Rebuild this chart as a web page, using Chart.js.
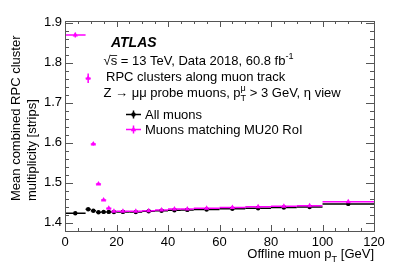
<!DOCTYPE html>
<html>
<head>
<meta charset="utf-8">
<script src="https://cdn.jsdelivr.net/npm/chart.js@4.4.1/dist/chart.umd.min.js"></script>
<style>
html,body{margin:0;padding:0;background:#fff;}
#wrap{width:407px;height:275px;position:relative;}
</style>
</head>
<body>
<div id="wrap"><canvas id="c" width="407" height="275"></canvas></div>
<script>
// ---- data ----
const binLo = [0, 8, 10, 12, 14, 16, 18, 20, 25, 30, 35, 40, 45, 50, 60, 70, 80, 90, 100];
const binHi = [8, 10, 12, 14, 16, 18, 20, 25, 30, 35, 40, 45, 50, 60, 70, 80, 90, 100, 120];
const allMuons = [1.4235, 1.4335, 1.430, 1.426, 1.427, 1.427, 1.4265, 1.427, 1.4265, 1.4285, 1.430, 1.431, 1.432, 1.433, 1.435, 1.436, 1.438, 1.439, 1.447];
const allErr = [0.001, 0.001, 0.001, 0.001, 0.001, 0.001, 0.001, 0.001, 0.001, 0.001, 0.001, 0.001, 0.001, 0.001, 0.001, 0.001, 0.001, 0.001, 0.001];
const mu20 = [1.869, 1.761, 1.597, 1.497, 1.457, 1.436, 1.4285, 1.4285, 1.4285, 1.430, 1.432, 1.434, 1.434, 1.436, 1.438, 1.440, 1.441, 1.4425, 1.4525];
const mu20Err = [0.006, 0.012, 0.004, 0.003, 0.003, 0.002, 0.001, 0.001, 0.001, 0.001, 0.001, 0.001, 0.001, 0.001, 0.001, 0.001, 0.001, 0.001, 0.001];
const xTicks = [0, 20, 40, 60, 80, 100, 120];
const yTicks = [1.4, 1.5, 1.6, 1.7, 1.8, 1.9];

const FONT = '"Liberation Sans", Arial, Helvetica, sans-serif';
const BLACK = '#000000';
const MAGENTA = '#ff00ff';

const centers = binLo.map((lo, i) => (lo + binHi[i]) / 2);
const mk = vals => vals.map((v, i) => ({x: centers[i], y: v}));

const errorBars = {
  id: 'errorBars',
  beforeDatasetsDraw(chart) {
    const ctx = chart.ctx, xs = chart.scales.x, ys = chart.scales.y;
    const sets = [[allMuons, allErr, BLACK], [mu20, mu20Err, MAGENTA]];
    ctx.save();
    ctx.lineWidth = 1.5;
    sets.forEach(([vals, errs, col]) => {
      ctx.strokeStyle = col;
      vals.forEach((v, i) => {
        const y = ys.getPixelForValue(v);
        ctx.beginPath();
        ctx.moveTo(xs.getPixelForValue(binLo[i]), y);
        ctx.lineTo(xs.getPixelForValue(binHi[i]), y);
        const cx = xs.getPixelForValue(centers[i]);
        ctx.moveTo(cx, ys.getPixelForValue(v - errs[i]));
        ctx.lineTo(cx, ys.getPixelForValue(v + errs[i]));
        ctx.stroke();
      });
    });
    ctx.restore();
  }
};

function drawRich(ctx, x, y, parts, size) {
  // parts: [text, mode] mode: 'n' normal, 'sup', 'sub', 'supsub' [sup,sub]
  let cx = x;
  parts.forEach(p => {
    const [t, mode] = p;
    if (mode === 'n' || !mode) {
      ctx.font = size + 'px ' + FONT;
      ctx.fillText(t, cx, y);
      cx += ctx.measureText(t).width;
    } else if (mode === 'sup') {
      ctx.font = (size * 0.7) + 'px ' + FONT;
      ctx.fillText(t, cx, y - size * 0.45);
      cx += ctx.measureText(t).width;
    } else if (mode === 'sub') {
      ctx.font = (size * 0.7) + 'px ' + FONT;
      ctx.fillText(t, cx, y + size * 0.3);
      cx += ctx.measureText(t).width;
    } else if (mode === 'supsub') {
      ctx.font = (size * 0.7) + 'px ' + FONT;
      ctx.fillText(t[0], cx, y - size * 0.45);
      ctx.fillText(t[1], cx, y + size * 0.3);
      cx += Math.max(ctx.measureText(t[0]).width, ctx.measureText(t[1]).width);
    }
  });
  return cx;
}

const decor = {
  id: 'decor',
  afterDraw(chart) {
    const ctx = chart.ctx, a = chart.chartArea, xs = chart.scales.x, ys = chart.scales.y;
    ctx.save();
    // frame
    ctx.strokeStyle = '#555';
    ctx.lineWidth = 1;
    ctx.strokeRect(Math.round(a.left) + 0.5, Math.round(a.top) + 0.5, Math.round(a.right - a.left), Math.round(a.bottom - a.top));
    // x ticks
    ctx.beginPath();
    for (let v = 0; v <= 120; v += 5) {
      const px = Math.round(xs.getPixelForValue(v)) + 0.5;
      const len = (v % 20 === 0) ? 6 : 3;
      ctx.moveTo(px, a.bottom); ctx.lineTo(px, a.bottom - len);
      ctx.moveTo(px, a.top); ctx.lineTo(px, a.top + len);
    }
    for (let k = 0; k <= 26; k++) {
      const v = 1.38 + k * 0.02;
      if (v > ys.max) break;
      const py = Math.round(ys.getPixelForValue(v)) + 0.5;
      const major = Math.abs((v * 10) - Math.round(v * 10)) < 1e-6;
      const len = major ? 8 : 4;
      ctx.moveTo(a.left, py); ctx.lineTo(a.left + len, py);
      ctx.moveTo(a.right, py); ctx.lineTo(a.right - len, py);
    }
    ctx.stroke();

    ctx.fillStyle = '#000';
    ctx.textBaseline = 'alphabetic';
    ctx.textAlign = 'left';
    // ATLAS label
    ctx.font = 'italic bold 14px ' + FONT;
    ctx.fillText('ATLAS', 111, 47);
    // sqrt s line
    ctx.font = '13px ' + FONT;
    const sx = 103.5;
    const w1 = ctx.measureText('√').width;
    const w2 = ctx.measureText('s').width;
    ctx.beginPath();
    ctx.lineWidth = 0.8;
    ctx.strokeStyle = '#000';
    ctx.moveTo(sx + w1 - 0.5, 55.5); ctx.lineTo(sx + w1 + w2, 55.5);
    ctx.stroke();
    drawRich(ctx, sx, 65, [['√s = 13 TeV, Data 2018, 60.8 fb', 'n'], ['-1', 'sup']], 13);
    drawRich(ctx, 106, 81, [['RPC clusters along muon track', 'n']], 13);
    drawRich(ctx, 103.5, 97, [['Z → μμ probe muons, p', 'n'], [['μ', 'T'], 'supsub'], [' > 3 GeV, η view', 'n']], 13);

    // legend
    const leg = [[BLACK, 'All muons', 114.5, 'circle'], [MAGENTA, 'Muons matching MU20 RoI', 129.5, 'triangle']];
    leg.forEach(([col, txt, y, shape]) => {
      ctx.strokeStyle = col; ctx.fillStyle = col; ctx.lineWidth = 1.5;
      ctx.beginPath();
      ctx.moveTo(126, y); ctx.lineTo(141, y);
      ctx.moveTo(133.5, y - 4); ctx.lineTo(133.5, y + 4);
      ctx.stroke();
      ctx.beginPath();
      if (shape === 'circle') { ctx.arc(133.5, y, 2.2, 0, Math.PI * 2); }
      else { ctx.moveTo(133.5, y - 3); ctx.lineTo(136.2, y + 1.8); ctx.lineTo(130.8, y + 1.8); ctx.closePath(); }
      ctx.fill();
      ctx.fillStyle = '#000';
      ctx.font = '13px ' + FONT;
      ctx.fillText(txt, 145, y + 4);
    });

    // x title (right aligned at plot right)
    ctx.fillStyle = '#000';
    ctx.font = '13px ' + FONT;
    const t1 = 'Offline muon p', t2 = 'T', t3 = ' [GeV]';
    ctx.font = '13px ' + FONT; const m1 = ctx.measureText(t1).width, m3 = ctx.measureText(t3).width;
    ctx.font = '9.1px ' + FONT; const m2 = ctx.measureText(t2).width;
    const xstart = a.right - (m1 + m2 + m3);
    drawRich(ctx, xstart, 258, [[t1, 'n'], [t2, 'sub'], [t3, 'n']], 13);

    // y title
    ctx.save();
    ctx.translate(0, 0);
    ctx.rotate(-Math.PI / 2);
    ctx.font = '13px ' + FONT;
    ctx.textAlign = 'left';
    ctx.fillText('Mean combined RPC cluster', -201, 20);
    ctx.fillText('multiplicity [strips]', -201, 36);
    ctx.restore();
    ctx.restore();
  }
};

new Chart(document.getElementById('c'), {
  type: 'scatter',
  data: {
    datasets: [
      {label: 'All muons', data: mk(allMuons), backgroundColor: BLACK, borderColor: BLACK,
       pointStyle: 'circle', pointRadius: 2.2, borderWidth: 0, showLine: false, order: 2},
      {label: 'Muons matching MU20 RoI', data: mk(mu20), backgroundColor: MAGENTA, borderColor: MAGENTA,
       pointStyle: 'triangle', pointRadius: 3, borderWidth: 0, showLine: false, order: 1}
    ]
  },
  options: {
    responsive: false,
    devicePixelRatio: 1,
    animation: false,
    layout: {padding: {left: 0, top: 21, right: 33, bottom: 0}},
    plugins: {legend: {display: false}, tooltip: {enabled: false}},
    scales: {
      x: {
        type: 'linear', min: 0, max: 120,
        afterBuildTicks: s => { s.ticks = xTicks.map(v => ({value: v})); },
        afterFit: s => { s.height = 44; },
        ticks: {font: {family: FONT, size: 13}, color: '#000', padding: 4, maxRotation: 0, autoSkip: false},
        grid: {display: false, drawTicks: false},
        border: {display: false}
      },
      y: {
        type: 'linear', min: 1.37925, max: 1.90425,
        afterBuildTicks: s => { s.ticks = yTicks.map(v => ({value: v})); },
        afterFit: s => { s.width = 65; },
        ticks: {font: {family: FONT, size: 13}, color: '#000', padding: 3, autoSkip: false,
                callback: v => v.toFixed(1)},
        grid: {display: false, drawTicks: false},
        border: {display: false}
      }
    }
  },
  plugins: [errorBars, decor]
});
</script>
</body>
</html>
